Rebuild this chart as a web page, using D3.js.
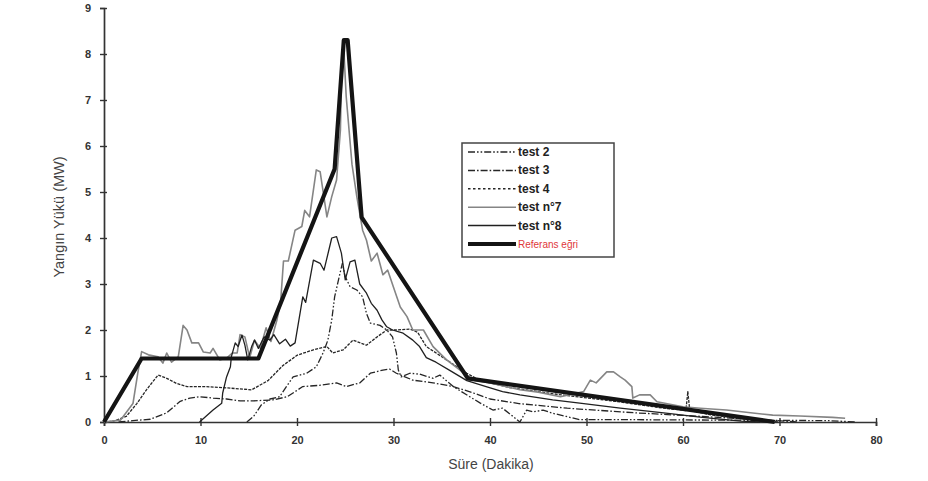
<!DOCTYPE html>
<html lang="tr">
<head>
<meta charset="UTF-8">
<script src="https://cdn.jsdelivr.net/npm/d3@7"></script>
<title>Yangın Yükü</title>
<style>
  html,body{margin:0;background:#fff;}
  svg{display:block;font-family:"Liberation Sans",Arial,sans-serif;}
</style>
</head>
<body>
<svg id="chart" width="928" height="481"></svg>
<script>
// eksen degerleri
var xTicks = [0, 10, 20, 30, 40, 50, 60, 70, 80];
var yTicks = [0, 1, 2, 3, 4, 5, 6, 7, 8, 9];

// seriler: [dakika, MW]
var test2 = [[14.8,0],[15.5,0.12],[16.3,0.37],[17.2,0.5],[18.2,0.55],[18.9,0.77],[19.6,0.98],[21,1.06],[22,1.2],[22.7,1.5],[23.2,1.78],[23.6,2.22],[23.9,2.72],[24.3,3.09],[24.7,3.45],[25,3.16],[25.5,2.94],[26.2,2.87],[26.8,2.72],[27.2,2.36],[27.6,2.15],[28.6,2.1],[29.3,2.0],[29.9,1.85],[30.3,1.5],[30.5,1.13],[30.8,0.98],[31.7,1.06],[32.7,1.04],[34.1,0.95],[34.8,1.02],[36.2,0.77],[37.9,0.55],[39,0.41],[40.3,0.26],[41.3,0.3],[42.4,0.12],[43.1,0],[43.8,0.26],[44.5,0.22],[45.5,0.26],[46.5,0.19],[47.9,0.12],[49.3,0.05],[55,0.05],[65,0.04],[75,0.03],[78,0]];

var test3 = [[1.5,0],[3,0.03],[4.8,0.06],[6.5,0.2],[7.9,0.45],[8.9,0.52],[9.9,0.55],[11.3,0.52],[12.7,0.5],[14.1,0.46],[15.5,0.46],[17.5,0.48],[19,0.55],[20.6,0.77],[22.5,0.8],[24.1,0.85],[25.1,0.77],[26.5,0.85],[27.6,1.06],[28.9,1.13],[29.6,1.15],[30.3,1.06],[32,0.91],[34.1,0.85],[36.2,0.77],[38.3,0.63],[40,0.5],[43,0.4],[48,0.3],[55,0.2],[62,0.12],[68,0.05],[72,0]];

var test4 = [[0,0],[1,0.02],[2.3,0.12],[3.4,0.4],[4.4,0.7],[5.6,1.02],[6.5,0.95],[7.5,0.84],[8.6,0.77],[10.5,0.77],[12.8,0.74],[15.3,0.7],[17,0.9],[18.5,1.22],[20,1.45],[21.7,1.57],[23.1,1.64],[23.7,1.5],[24.8,1.57],[25.8,1.78],[27.2,1.67],[28.3,1.85],[29.3,2.0],[30.3,2.0],[31.7,2.02],[32.5,1.95],[33.4,1.64],[35.5,1.35],[37.6,1.06],[39,0.9],[42,0.75],[47,0.6],[53,0.45],[58,0.3],[60.3,0.25],[60.5,0.66],[60.7,0.25],[63,0.15],[68,0.03],[70,0]];

var test7 = [[0,0],[1.7,0.04],[3,0.4],[3.5,1.06],[3.9,1.53],[4.6,1.46],[5.6,1.42],[6.1,1.28],[6.5,1.5],[7,1.3],[7.7,1.42],[8.2,2.1],[8.6,2.0],[9.1,1.72],[9.8,1.72],[10.3,1.52],[11,1.5],[11.3,1.6],[12,1.35],[12.7,1.39],[13.3,1.5],[13.8,1.5],[14.1,1.9],[14.6,1.85],[15.1,1.4],[15.6,1.78],[16.2,1.6],[16.8,2.05],[17.3,1.75],[17.9,2.2],[18.3,2.6],[18.6,3.5],[19.1,3.5],[19.8,4.17],[20.5,4.25],[20.8,4.6],[21.3,4.46],[22,5.48],[22.4,5.44],[23.1,4.46],[23.6,4.9],[24.1,5.26],[24.5,6.35],[24.6,7.43],[24.85,8.1],[25.1,7.07],[25.7,5.6],[26.2,4.9],[26.8,4.17],[27.2,3.95],[27.7,3.5],[28.3,3.67],[28.9,3.2],[29.4,3.3],[30,2.93],[30.7,2.5],[31.4,2.29],[32,2.0],[33.1,2.0],[34.1,1.64],[35.5,1.35],[36.9,1.13],[38.3,0.91],[40,0.85],[43.1,0.7],[45,0.65],[47.3,0.55],[49.7,0.66],[50.4,0.91],[51,0.85],[52.1,1.09],[52.8,1.09],[53.5,0.98],[54,0.91],[54.7,0.77],[54.8,0.52],[55.5,0.59],[56.6,0.59],[57.3,0.44],[60,0.33],[61.8,0.3],[64.5,0.26],[67,0.2],[69.3,0.15],[72.1,0.13],[75.5,0.1],[76.8,0.08]];

var test8 = [[9.9,0],[11.3,0.26],[12.2,0.41],[12.3,0.63],[12.7,0.98],[13.1,1.2],[13.2,1.42],[13.6,1.72],[13.9,1.64],[14.3,1.89],[14.6,1.67],[14.9,1.35],[15.3,1.64],[15.6,1.78],[16,1.6],[16.6,1.85],[17.2,1.78],[17.6,1.9],[18.2,1.7],[18.8,1.8],[19.3,1.65],[19.8,1.72],[20.6,2.72],[20.9,2.6],[21.7,3.52],[22.4,3.45],[22.8,3.3],[23.6,4.0],[24.1,4.03],[24.6,3.67],[25,3.09],[25.5,3.48],[26,3.52],[26.5,3.0],[27.2,2.8],[27.7,2.58],[28.3,2.43],[28.8,2.22],[29.3,2.07],[29.9,2.0],[31,1.93],[32,1.78],[32.7,1.64],[33.4,1.4],[34.4,1.3],[36,1.1],[37.6,0.9],[39.6,0.77],[41.3,0.66],[43.1,0.59],[46.5,0.48],[49.3,0.41],[53.5,0.3],[58,0.2],[62,0.1],[66,0.02],[68,0]];

var referans = [[0,0],[3.9,1.38],[16,1.38],[23.9,5.5],[24.85,8.3],[25.25,8.3],[26.7,4.45],[37.7,0.95],[69.5,0]];

var seriesNames = ["test 2", "test 3", "test 4", "test n°7", "test n°8", "Referans eğri"];
var seriesData = [test2, test3, test4, test7, test8, referans];

// cizgi stilleri
var styles = [
  {color: "#262626", width: 1.3, dash: "7,2,1.6,2,1.6,2"},
  {color: "#262626", width: 1.3, dash: "7,2,1.6,2"},
  {color: "#262626", width: 1.3, dash: "3,1.2"},
  {color: "#858585", width: 1.6, dash: null},
  {color: "#202020", width: 1.3, dash: null},
  {color: "#141414", width: 4.2, dash: null}
];

var svg = d3.select("#chart"),
    margin = {top: 8, right: 52, bottom: 59, left: 104},
    width = +svg.attr("width"),
    height = +svg.attr("height");

var x = d3.scaleLinear().domain([0, 80]).range([margin.left, width - margin.right]);
var y = d3.scaleLinear().domain([0, 9]).range([height - margin.bottom, margin.top]);

var line = d3.line().x(function(d){ return x(d[0]); }).y(function(d){ return y(d[1]); });

// eksenler
var gx = svg.append("g")
  .attr("transform", "translate(0," + y(0) + ")")
  .call(d3.axisBottom(x).tickValues(xTicks).tickSizeOuter(0).tickSize(4).tickPadding(10));
gx.selectAll(".tick line").attr("y1", -4).attr("y2", 4);

var gy = svg.append("g")
  .attr("transform", "translate(" + x(0) + ",0)")
  .call(d3.axisLeft(y).tickValues(yTicks).tickSizeOuter(0).tickSize(4).tickPadding(9));
gy.selectAll(".tick line").attr("x1", -4).attr("x2", 3);

svg.selectAll(".domain").attr("stroke", "#333").attr("stroke-width", 1.7);
svg.selectAll(".tick line").attr("stroke", "#333").attr("stroke-width", 1.4);
svg.selectAll(".tick text")
  .attr("fill", "#333")
  .style("font-family", "'Liberation Sans Narrow','Liberation Sans',Arial,sans-serif")
  .style("font-size", "11px")
  .style("font-weight", "bold");

// seriler
seriesData.forEach(function(data, i){
  var s = styles[i];
  svg.append("path")
    .datum(data)
    .attr("fill", "none")
    .attr("stroke", s.color)
    .attr("stroke-width", s.width)
    .attr("stroke-linejoin", "round")
    .attr("stroke-dasharray", s.dash)
    .attr("d", line);
});

// eksen basliklari
svg.append("text")
  .attr("transform", "translate(64," + ((y(0) + y(9)) / 2 + 2) + ") rotate(-90)")
  .attr("text-anchor", "middle")
  .attr("fill", "#444")
  .style("font-size", "14.5px")
  .text("Yangın Yükü (MW)");

svg.append("text")
  .attr("x", (x(0) + x(80)) / 2 + 1)
  .attr("y", 469)
  .attr("text-anchor", "middle")
  .attr("fill", "#444")
  .style("font-size", "14px")
  .text("Süre (Dakika)");

// lejant
var legend = svg.append("g").attr("transform", "translate(462,143)");
legend.append("rect")
  .attr("width", 152).attr("height", 114)
  .attr("fill", "#fff").attr("stroke", "#444").attr("stroke-width", 1.5);

var rows = legend.selectAll("g.row").data(seriesNames).enter().append("g")
  .attr("transform", function(d, i){ return "translate(0," + (9 + i * 18.4) + ")"; });

rows.append("line")
  .attr("x1", 6).attr("x2", 54).attr("y1", 0).attr("y2", 0)
  .attr("stroke", function(d, i){ return styles[i].color; })
  .attr("stroke-width", function(d, i){ return i === 5 ? 4 : 1.5; })
  .attr("stroke-dasharray", function(d, i){ return i === 2 ? "2.5,2.5" : styles[i].dash; });

rows.append("text")
  .attr("x", 56).attr("y", 4)
  .attr("fill", function(d, i){ return i === 5 ? "#e0383a" : "#222"; })
  .style("font-family", "'Liberation Sans Narrow','Liberation Sans',Arial,sans-serif")
  .style("font-size", function(d, i){ return i === 5 ? "10px" : "12px"; })
  .style("font-weight", function(d, i){ return i === 5 ? "normal" : "bold"; })
  .text(function(d){ return d; });
</script>
</body>
</html>
